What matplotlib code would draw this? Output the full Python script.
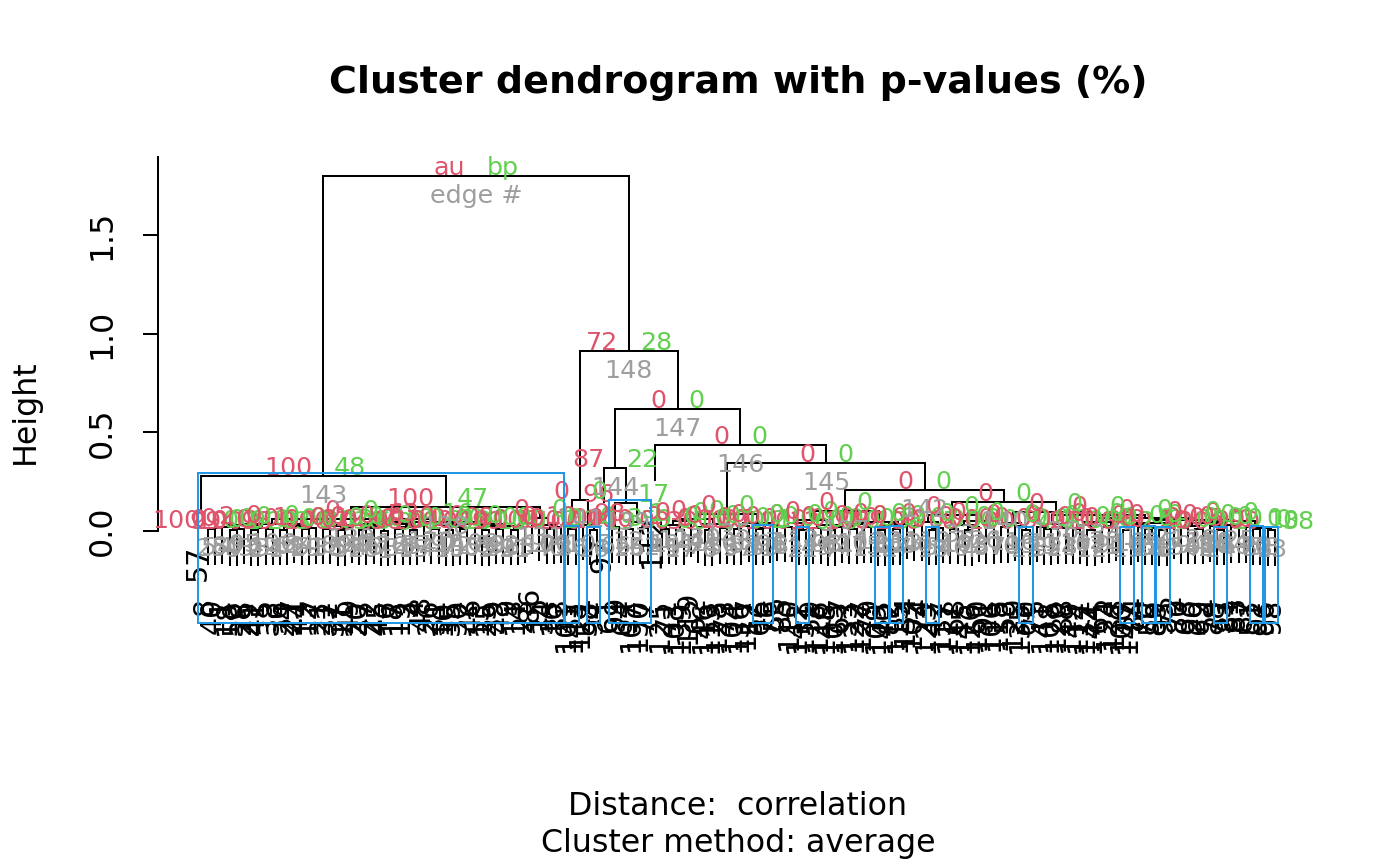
import matplotlib.pyplot as plt
from matplotlib.patches import Rectangle

# leaf labels in dendrogram order (left to right)
leaf_labels = [
    57, 8, 40, 1, 18, 50, 28, 29, 41, 5, 38, 36, 24, 27, 44, 12, 7, 21, 32, 37,
    11, 49, 20, 47, 22, 45, 6, 17, 19, 3, 4, 48, 26, 31, 10, 35, 30, 2, 46, 13,
    25, 39, 43, 9, 14, 23, 86, 15, 34, 16, 33,
    101, 143, 121, 58, 94, 97, 61, 99, 64, 107, 130, 77, 112, 125, 71, 103, 139, 119, 62,
    146, 113, 128, 73, 104, 136, 117, 52, 66, 76, 55, 85, 110, 142, 131, 59, 116, 148, 105,
    67, 133, 122, 127, 79, 109, 140, 82, 115, 134, 102, 74, 123, 42, 137, 111, 68, 145, 126,
    150, 91, 106, 118, 53, 129, 135, 60, 75, 141, 108, 120, 88, 149, 114, 132, 144, 65, 124,
    138, 100, 147, 84, 70, 56, 89, 95, 72, 80, 63, 90, 69, 54, 78, 93, 81, 83, 87, 51,
    92, 96, 98,
]

# height at which neighbouring leaves i and i+1 are joined
merge_heights = [
    0.280, 0.008, 0.015, 0.022, 0.005, 0.012, 0.028, 0.003, 0.017, 0.010,
    0.033, 0.006, 0.019, 0.024, 0.009, 0.014, 0.060, 0.011, 0.026, 0.004,
    0.016, 0.030, 0.007, 0.013, 0.021, 0.002, 0.036, 0.010, 0.018, 0.006,
    0.025, 0.045, 0.012, 0.029, 0.005, 0.020, 0.009, 0.034, 0.015, 0.003,
    0.023, 0.011, 0.027, 0.007, 0.017, 0.120, 0.065, 0.030, 0.011, 0.020,
    1.800, 0.010, 0.155, 0.032, 0.006, 0.910, 0.320, 0.018, 0.140, 0.008,
    0.045, 0.014, 0.620, 0.435, 0.012, 0.030, 0.006, 0.050, 0.060, 0.020,
    0.004, 0.035, 0.015, 0.085, 0.010, 0.025, 0.042, 0.009, 0.016, 0.028,
    0.343, 0.022, 0.038, 0.007, 0.055, 0.013, 0.029, 0.004, 0.018, 0.100,
    0.011, 0.033, 0.020, 0.047, 0.005, 0.024, 0.008, 0.036, 0.208, 0.026,
    0.044, 0.006, 0.017, 0.080, 0.012, 0.031, 0.003, 0.021, 0.052, 0.015,
    0.148, 0.019, 0.040, 0.027, 0.007, 0.098, 0.021, 0.009, 0.035, 0.014,
    0.080, 0.012, 0.030, 0.005, 0.046, 0.019, 0.026, 0.065, 0.006, 0.034,
    0.022, 0.008, 0.016, 0.004, 0.039, 0.058, 0.013, 0.027, 0.011, 0.043,
    0.024, 0.007, 0.031, 0.018, 0.050, 0.020, 0.009, 0.015, 0.005,
]

# approximately unbiased p-values (%) per junction
au_values = [
    100, 100, 0, 0, 99, 0, 2, 100, 0, 3,
    0, 98, 0, 1, 0, 0, 0, 0, 0, 100,
    0, 0, 97, 0, 12, 100, 0, 0, 0, 96,
    0, 63, 0, 0, 100, 0, 0, 0, 0, 100,
    0, 0, 8, 99, 0, 100, 0, 0, 100, 0,
    100, 100, 0, 10, 100, 72, 87, 100, 96, 100,
    98, 100, 0, 0, 0, 2, 0, 0, 0, 0,
    30, 0, 0, 0, 0, 0, 0, 100, 97, 0,
    0, 0, 0, 100, 0, 0, 0, 12, 0, 0,
    0, 0, 0, 0, 100, 0, 99, 0, 0, 0,
    0, 100, 0, 0, 0, 0, 8, 0, 0, 0,
    0, 0, 0, 0, 100, 0, 0, 3, 0, 0,
    0, 0, 0, 21, 0, 0, 0, 0, 100, 0,
    0, 98, 0, 100, 0, 0, 1, 0, 0, 0,
    0, 100, 0, 5, 0, 0, 99, 0, 100,
]

# bootstrap probabilities (%) per junction
bp_values = [
    48, 0, 0, 0, 2, 0, 0, 20, 0, 0,
    0, 3, 0, 0, 0, 0, 0, 0, 0, 30,
    0, 0, 6, 0, 0, 8, 0, 0, 0, 1,
    0, 16, 0, 0, 18, 0, 0, 0, 0, 12,
    0, 0, 0, 4, 0, 47, 0, 0, 2, 0,
    100, 24, 0, 0, 19, 28, 22, 3, 17, 5,
    1, 9, 0, 0, 0, 0, 0, 0, 0, 0,
    0, 0, 0, 0, 0, 0, 0, 2, 1, 0,
    0, 0, 0, 6, 0, 0, 0, 0, 0, 0,
    0, 0, 0, 0, 3, 0, 8, 0, 0, 0,
    0, 7, 0, 0, 0, 0, 0, 0, 0, 0,
    0, 0, 0, 0, 4, 0, 0, 0, 0, 0,
    0, 0, 0, 0, 0, 0, 0, 0, 2, 0,
    0, 5, 0, 3, 0, 0, 0, 0, 0, 0,
    0, 1, 0, 0, 0, 0, 10, 0, 38,
]

HANG = 0.18
AU_COL = "#DF536B"
BP_COL = "#61D04F"
EDGE_COL = "#9E9E9E"
RECT_COL = "#2297E6"
BASE = 22.8
PV = 18.3
LW = 1.45

fig = plt.figure(figsize=(14, 8.66), dpi=100)
ax = fig.add_axes([158 / 1400, 1 - 668 / 866, 1160 / 1400, 511 / 866])
ax.set_xlim(-5.92, 155.0)
ax.set_ylim(-0.6944, 1.8956)

nodes = []
leaf_end = {}


def build(lo, hi):
    if lo == hi:
        return float(lo), None
    k = max(range(lo, hi), key=lambda g: merge_heights[g])
    h = merge_heights[k]
    xl, hl = build(lo, k)
    xr, hr = build(k + 1, hi)
    for x, hc, idx in ((xl, hl, lo), (xr, hr, hi)):
        if hc is None:
            leaf_end[idx] = h - HANG
            ax.plot([x, x], [h - HANG, h], color="black", lw=LW, solid_capstyle="butt")
        else:
            ax.plot([x, x], [hc, h], color="black", lw=LW, solid_capstyle="butt")
    ax.plot([xl, xr], [h, h], color="black", lw=LW, solid_capstyle="projecting")
    xc = (xl + xr) / 2
    nodes.append(dict(x=xc, h=h, k=k, lo=lo, hi=hi))
    return xc, h


build(0, len(leaf_labels) - 1)

# leaf labels
for i, lab in enumerate(leaf_labels):
    ax.annotate(str(lab), (i, leaf_end[i]), xytext=(-2.5 * 0.72, -33 * 0.72),
                textcoords="offset points", rotation=90, ha="center", va="top",
                fontsize=20.5, color="black")

# p-values and edge numbers
order = sorted(nodes, key=lambda n: n["h"])
root = order[-1]
for num, n in enumerate(order, start=1):
    if n is root:
        au_t, bp_t, ed_t = "au", "bp", "edge #"
    else:
        au_t, bp_t, ed_t = str(au_values[n["k"]]), str(bp_values[n["k"]]), str(num)
    ax.annotate(au_t, (n["x"], n["h"]), xytext=(-11 * 0.72, 1 * 0.72), textcoords="offset points",
                ha="right", va="baseline", fontsize=PV, color=AU_COL)
    ax.annotate(bp_t, (n["x"], n["h"]), xytext=(11 * 0.72, 1 * 0.72), textcoords="offset points",
                ha="left", va="baseline", fontsize=PV, color=BP_COL)
    ax.annotate(ed_t, (n["x"], n["h"]), xytext=(0, -27 * 0.72), textcoords="offset points",
                ha="center", va="baseline", fontsize=PV, color=EDGE_COL)

# rectangles around clusters with au >= 95 (largest only)
boxed = []
for n in reversed(order):
    if n is root or au_values[n["k"]] < 95:
        continue
    if any(b["lo"] <= n["lo"] and n["hi"] <= b["hi"] for b in boxed):
        continue
    boxed.append(n)
    ax.add_patch(Rectangle((n["lo"] - 0.42, -0.466), n["hi"] - n["lo"] + 0.84, n["h"] + 0.015 + 0.466,
                           fill=False, edgecolor=RECT_COL, lw=LW, zorder=5))

# axes styling
for s in ("top", "right", "bottom"):
    ax.spines[s].set_visible(False)
ax.spines["left"].set_bounds(0, 1.8956)
ax.spines["left"].set_linewidth(LW)
ax.set_xticks([])
ax.set_yticks([0.0, 0.5, 1.0, 1.5])
ax.set_yticklabels(["0.0", "0.5", "1.0", "1.5"])
ax.tick_params(axis="y", length=15 * 0.72, width=LW, pad=18, labelsize=BASE)
for t in ax.get_yticklabels():
    t.set_rotation(90)
    t.set_va("center")
    t.set_ha("right")

fig.text(738 / 1400, 1 - 93 / 866, "Cluster dendrogram with p-values (%)", ha="center",
         va="baseline", fontsize=27.4, fontweight="bold")
fig.text(25 / 1400, 1 - 412 / 866, "Height", rotation=90, ha="center", va="center", fontsize=BASE)
fig.text(738 / 1400, 1 - 815 / 866, "Distance:  correlation", ha="center", va="baseline", fontsize=BASE)
fig.text(738 / 1400, 1 - 852 / 866, "Cluster method: average", ha="center", va="baseline", fontsize=BASE)

fig.savefig("out.png", dpi=100)
